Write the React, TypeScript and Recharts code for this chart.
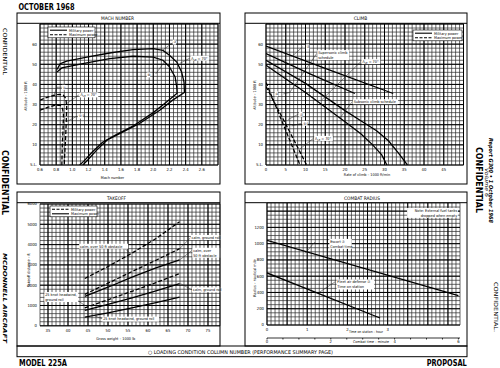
import React from 'react';
import { LineChart, Line, XAxis, YAxis, CartesianGrid, ReferenceLine, ReferenceDot } from 'recharts';

const FONT = '"DejaVu Sans Condensed", "DejaVu Sans", "Liberation Sans", sans-serif';
const HEAVY = '"DejaVu Sans", "Liberation Sans", sans-serif';

type Pt = { x: number; y: number };
type Note = { x: number; y: number; text: string; anchor?: 'start' | 'end' };
type Seg = [number, number, number, number];

// ---------- MACH NUMBER (altitude vs Mach) ----------
const machTicks = [0.6, 0.8, 1.0, 1.2, 1.4, 1.6, 1.8, 2.0, 2.2, 2.4, 2.6];
const altTicks = [0, 10, 20, 30, 40, 50, 60];

const machOuter: Pt[] = [
  { x: 0.81, y: 47.4 }, { x: 0.85, y: 50.3 }, { x: 0.93, y: 51.6 }, { x: 1.18, y: 53.6 },
  { x: 1.46, y: 55.6 }, { x: 1.75, y: 57.3 }, { x: 2.0, y: 57.8 }, { x: 2.12, y: 56.9 },
  { x: 2.2, y: 54.5 }, { x: 2.29, y: 51.1 }, { x: 2.35, y: 46.2 }, { x: 2.38, y: 41.2 },
  { x: 2.385, y: 36 }, { x: 2.24, y: 32.2 }, { x: 2.08, y: 27.2 }, { x: 1.83, y: 20.6 },
  { x: 1.59, y: 15.7 }, { x: 1.43, y: 12.4 }, { x: 1.3, y: 7.4 }, { x: 1.19, y: 2.5 },
  { x: 1.13, y: 0 },
];
const machInner: Pt[] = [
  { x: 0.81, y: 46.2 }, { x: 0.87, y: 48.2 }, { x: 1.13, y: 50.3 }, { x: 1.46, y: 52.8 },
  { x: 1.75, y: 54.0 }, { x: 2.0, y: 53.6 }, { x: 2.12, y: 52.0 }, { x: 2.2, y: 48.7 },
  { x: 2.27, y: 43.7 }, { x: 2.29, y: 38.8 }, { x: 2.295, y: 35.6 }, { x: 2.16, y: 31.2 },
  { x: 2.0, y: 26.0 }, { x: 1.76, y: 19.6 }, { x: 1.52, y: 14.6 }, { x: 1.37, y: 11.2 },
  { x: 1.24, y: 6.2 }, { x: 1.14, y: 1.8 }, { x: 1.09, y: 0 },
];
const machSubUpper: Pt[] = [
  { x: 0.6, y: 32.2 }, { x: 0.68, y: 33.5 }, { x: 0.76, y: 34.5 }, { x: 0.84, y: 35.1 },
  { x: 0.89, y: 34.6 }, { x: 0.92, y: 33 }, { x: 0.93, y: 29 }, { x: 0.925, y: 22 },
  { x: 0.915, y: 12 }, { x: 0.905, y: 5 }, { x: 0.9, y: 0 },
];
const machSubLower: Pt[] = [
  { x: 0.6, y: 27.2 }, { x: 0.7, y: 28.7 }, { x: 0.79, y: 29.7 }, { x: 0.85, y: 29.6 },
  { x: 0.88, y: 27.8 }, { x: 0.89, y: 25 }, { x: 0.885, y: 18 }, { x: 0.875, y: 9 },
  { x: 0.87, y: 0 },
];
const machNotes: Note[] = [
  { x: 2.25, y: 61, text: '⑦' },
  { x: 2.47, y: 53, text: 'ΛLE = 70°' },
  { x: 1.93, y: 44.7, text: '⑧' },
  { x: 0.88, y: 38.6, text: '①' },
  { x: 1.1, y: 34.8, text: 'ΛLE = 70°' },
  { x: 1.08, y: 24.3, text: '⑤⑦' },
];
const machLeaders: Seg[] = [
  [2.12, 57.1, 2.24, 60.7], [2.33, 50.5, 2.45, 53], [2.03, 45.2, 2.14, 51.3],
  [0.77, 34.6, 0.81, 38.6], [0.81, 38.6, 0.87, 38.6], [0.93, 30.5, 1.08, 34.8],
  [0.93, 21.5, 1.06, 24.3],
];

// ---------- CLIMB (altitude vs rate of climb) ----------
const rocTicks = [0, 5, 10, 15, 20, 25, 30, 35, 40, 45];
const climbMilA: Pt[] = [{ x: 0, y: 59 }, { x: 16, y: 47.2 }, { x: 32.2, y: 35.5 }];
const climbMilB: Pt[] = [{ x: 0, y: 55.3 }, { x: 11, y: 45.4 }, { x: 22.5, y: 35.5 }];
const climbSubA: Pt[] = [
  { x: 0, y: 52 }, { x: 10, y: 40.5 }, { x: 20, y: 27 }, { x: 24, y: 22 }, { x: 28, y: 17 },
  { x: 31, y: 12 }, { x: 33.5, y: 6 }, { x: 35.8, y: 0 },
];
const climbSubB: Pt[] = [
  { x: 0, y: 49.5 }, { x: 10, y: 36 }, { x: 20, y: 21.5 }, { x: 24, y: 15.5 }, { x: 27, y: 10 },
  { x: 29.3, y: 5 }, { x: 30.6, y: 0 },
];
const climbMaxA: Pt[] = [{ x: 0, y: 41 }, { x: 4.3, y: 20.5 }, { x: 8.6, y: 0 }];
const climbMaxB: Pt[] = [{ x: 0, y: 39 }, { x: 5.2, y: 19.5 }, { x: 10.3, y: 0 }];
const climbNotes: Note[] = [
  { x: 10.3, y: 58.7, text: '⑦' },
  { x: 13.2, y: 55.8, text: 'Supersonic climb\nschedule' },
  { x: 2.4, y: 35.3, text: '⑤' },
  { x: 24.4, y: 51.3, text: 'ΛLE = 70°' },
  { x: 22.2, y: 31.4, text: 'Subsonic climb schedule' },
  { x: 8.6, y: 25.2, text: '⑦' },
  { x: 9.4, y: 20.7, text: '⑤⑦' },
  { x: 12.4, y: 13.2, text: 'ΛLE = 70°' },
];
const climbLeaders: Seg[] = [
  [6.5, 53.8, 9.3, 58.7], [6.0, 36.0, 12.9, 55.5], [4.4, 35.3, 6.0, 36.0],
  [14.1, 32.3, 24.0, 51.3], [18.7, 23.2, 21.8, 31.4], [5.6, 22.6, 8.2, 25.2],
  [6.5, 19.4, 9.0, 20.7], [8.2, 7.4, 12.0, 13.2],
];

// ---------- TAKEOFF (distance vs gross weight) ----------
const weightTicks = [35, 40, 45, 50, 55, 60, 65, 70, 75];
const distTicks = [0, 1000, 2000, 3000, 4000, 5000, 6000];
const toWeights = [44.2, 50, 56, 62, 67.9];
const toMilObstacle = [2330, 2920, 3580, 4300, 5130];
const toMilRoll = [1550, 2100, 2670, 3230, 3800];
const toMaxObstacle = [1450, 1900, 2400, 2850, 3250];
const toMilWindRoll = [880, 1280, 1700, 2130, 2574];
const toMaxRoll = [757, 1060, 1380, 1720, 2079];
const toMaxWindRoll = [426, 640, 880, 1140, 1416];
const takeoffRows = toWeights.map((w, i) => ({
  w,
  milObs: toMilObstacle[i],
  milRoll: toMilRoll[i],
  maxObs: toMaxObstacle[i],
  milWind: toMilWindRoll[i],
  maxRoll: toMaxRoll[i],
  maxWind: toMaxWindRoll[i],
}));
const takeoffNotes: Note[] = [
  { x: 43, y: 3918, text: 'calm, over 50 ft obstacle' },
  { x: 70.9, y: 4350, text: 'calm, ground roll' },
  { x: 71.3, y: 3720, text: 'calm, over\n50 ft obstacle' },
  { x: 71.2, y: 1770, text: 'calm, ground roll' },
  { x: 34.3, y: 1540, text: '25 knot headwind,\nground roll' },
  { x: 48.8, y: 332, text: '25 knot headwind, ground roll' },
];
const takeoffLeaders: Seg[] = [
  [53.6, 3918, 55.6, 3560], [67.9, 3800, 70.6, 4330], [68.1, 3270, 70.9, 3700],
  [68.1, 2080, 71, 1770], [41.3, 1400, 44.3, 990], [46, 546, 48.5, 347],
];

// ---------- COMBAT RADIUS ----------
const hourTicks = [0, 1, 2, 3];
const minuteTicks = [0, 0.5, 1, 1.5, 2, 2.5, 3, 3.5, 4, 4.5, 5, 5.5, 6];
const radiusTicks = [0, 200, 400, 600, 800, 1000, 1200];
const escortMinutes: Pt[] = [{ x: 0, y: 1040 }, { x: 6, y: 360 }];
const fleetHours: Pt[] = [{ x: 0, y: 640 }, { x: 2.81, y: 86 }];
const combatNotes: Note[] = [
  { x: 4.73, y: 1409, text: 'Note:  External fuel tanks\ndropped when empty', anchor: 'end' },
  { x: 1.57, y: 1028, text: 'Escort ⑦\nCombat time' },
  { x: 1.75, y: 529, text: 'Fleet air defense ⑦\nTime on station' },
];
const combatLeaders: Seg[] = [[1.19, 880, 1.5, 1020], [1.28, 395, 1.69, 529]];

// ---------- helpers ----------
const steps = (a: number, b: number, s: number) => {
  const out: number[] = [];
  const n = Math.round((b - a) / s);
  for (let i = 0; i <= n; i++) out.push(+(a + i * s).toFixed(4));
  return out;
};
const slFmt = (v: number) => (v === 0 ? 'S.L.' : String(v));

const FS = 3.8;
const LH = 5;

const leLine = (l: string) =>
  l.startsWith('ΛLE')
    ? [
        <tspan key="a">Λ</tspan>,
        <tspan key="b" fontSize={FS * 0.7} dy={1}>LE</tspan>,
        <tspan key="c" dy={-1}>{l.slice(3)}</tspan>,
      ]
    : l;

const noteLabel = (n: Note) => (p: any) => {
  const vb = p.viewBox || { x: 0, y: 0 };
  const cx = vb.x;
  const cy = vb.y;
  const lines = n.text.split('\n');
  const end = n.anchor === 'end';
  const w = Math.max(...lines.map((l) => l.length)) * FS * 0.5 + 1.5;
  const h = lines.length * LH;
  return (
    <g>
      <rect x={end ? cx - w + 0.8 : cx - 0.8} y={cy - LH / 2} width={w} height={h} fill="#fff" />
      {lines.map((l, i) => (
        <text
          key={i}
          x={cx}
          y={cy + i * LH + FS * 0.36}
          fontSize={FS}
          fontFamily={FONT}
          fill="#000"
          textAnchor={end ? 'end' : 'start'}
        >
          {leLine(l)}
        </text>
      ))}
    </g>
  );
};

const renderNotes = (notes: Note[], xAxisId?: string) =>
  notes.map((n, i) => (
    <ReferenceDot
      key={`n${i}`}
      x={n.x}
      y={n.y}
      r={0}
      xAxisId={xAxisId}
      ifOverflow="visible"
      label={noteLabel(n)}
    />
  ));

const renderLeaders = (segs: Seg[], xAxisId?: string) =>
  segs.map((s, i) => (
    <ReferenceLine
      key={`l${i}`}
      xAxisId={xAxisId}
      segment={[{ x: s[0], y: s[1] }, { x: s[2], y: s[3] }]}
      stroke="#222"
      strokeWidth={0.5}
      ifOverflow="visible"
    />
  ));

const axisProps = {
  tickLine: false,
  axisLine: false,
  tickSize: 2,
  tickMargin: 1,
  interval: 0 as const,
  tick: { fontSize: 4.2, fill: '#000', fontFamily: FONT },
};

const minorGrid = { stroke: '#2e2e2e', strokeWidth: 0.72 };
const majorGrid = { stroke: '#000', strokeWidth: 1 };

type Box = { left: number; top: number; w: number; h: number };
const PL = 30;
const PT = 6;
const PR = 6;
const PB = 30;
const place = (b: Box): React.CSSProperties => ({ position: 'absolute', left: b.left - PL, top: b.top - PT });

const MACH: Box = { left: 40, top: 24, w: 178, h: 141 };
const CLIMB: Box = { left: 266, top: 24, w: 197.5, h: 141 };
const TAKEOFF: Box = { left: 40, top: 203.5, w: 180, h: 121.8 };
const COMBAT: Box = { left: 267, top: 203.3, w: 193, h: 122 };

const solid = { stroke: '#000', strokeWidth: 1.3, dot: false, isAnimationActive: false, type: 'linear' as const };
const dashed = { ...solid, strokeDasharray: '4 2' };

type LegendItem = { label: string; dashed: boolean };
const LegendBox = ({ x, y, w, items }: { x: number; y: number; w: number; items: LegendItem[] }) => (
  <g>
    <rect x={x} y={y} width={w} height={items.length * 4.6 + 1.6} fill="#fff" stroke="#000" strokeWidth={0.6} />
    {items.map((it, i) => (
      <g key={i}>
        <line
          x1={x + 2}
          x2={x + 19}
          y1={y + 3.2 + i * 4.6}
          y2={y + 3.2 + i * 4.6}
          stroke="#000"
          strokeWidth={1.1}
          strokeDasharray={it.dashed ? '3 1.5' : undefined}
        />
        <text x={x + 21} y={y + 4.5 + i * 4.6} fontSize={FS} fontFamily={FONT} fill="#000">
          {it.label}
        </text>
      </g>
    ))}
  </g>
);

const vText = (x: number, y: number, t: string, fs: number, len: number, extra: any = {}) => (
  <text transform={`translate(${x},${y}) rotate(90)`} fontSize={fs} textLength={len} lengthAdjust="spacingAndGlyphs" fill="#000" {...extra}>
    {t}
  </text>
);
const yTitle = (cx: number, cy: number, t: string) => (
  <text transform={`translate(${cx},${cy}) rotate(-90)`} fontSize={FS} fontFamily={FONT} textAnchor="middle" fill="#000">
    {t}
  </text>
);

export default function App() {
  return (
    <div style={{ position: 'absolute', left: 0, top: 0, width: 500, height: 368, background: '#fff', overflow: 'hidden', fontFamily: FONT }}>
      {/* Mach number */}
      <div style={place(MACH)}>
        <LineChart width={MACH.w + PL + PR} height={MACH.h + PT + PB} margin={{ top: PT, right: PR, bottom: 0, left: 0 }}>
          <CartesianGrid verticalValues={steps(0.6, 2.8, 0.05)} horizontalValues={steps(0, 70, 2)} {...minorGrid} />
          <CartesianGrid verticalValues={steps(0.6, 2.8, 0.2)} horizontalValues={steps(0, 70, 10)} {...majorGrid} />
          <XAxis type="number" dataKey="x" domain={[0.6, 2.8]} ticks={machTicks} tickFormatter={(v: number) => v.toFixed(1)} height={PB} allowDataOverflow {...axisProps} />
          <YAxis type="number" domain={[0, 70]} ticks={altTicks} tickFormatter={slFmt} width={PL} allowDataOverflow {...axisProps} />
          <Line data={machOuter} dataKey="y" {...solid} />
          <Line data={machInner} dataKey="y" {...solid} />
          <Line data={machSubUpper} dataKey="y" {...dashed} />
          <Line data={machSubLower} dataKey="y" {...dashed} />
          {renderLeaders(machLeaders)}
          {renderNotes(machNotes)}
        </LineChart>
      </div>

      {/* Climb */}
      <div style={place(CLIMB)}>
        <LineChart width={CLIMB.w + PL + PR} height={CLIMB.h + PT + PB} margin={{ top: PT, right: PR, bottom: 0, left: 0 }}>
          <CartesianGrid verticalValues={steps(0, 50, 1)} horizontalValues={steps(0, 70, 2)} {...minorGrid} />
          <CartesianGrid verticalValues={steps(0, 50, 5)} horizontalValues={steps(0, 70, 10)} {...majorGrid} />
          <XAxis type="number" dataKey="x" domain={[0, 50]} ticks={rocTicks} height={PB} allowDataOverflow {...axisProps} />
          <YAxis type="number" domain={[0, 70]} ticks={altTicks} tickFormatter={slFmt} width={PL} allowDataOverflow {...axisProps} />
          <Line data={climbMilA} dataKey="y" {...solid} />
          <Line data={climbMilB} dataKey="y" {...solid} />
          <Line data={climbSubA} dataKey="y" {...solid} />
          <Line data={climbSubB} dataKey="y" {...solid} />
          <Line data={climbMaxA} dataKey="y" {...dashed} />
          <Line data={climbMaxB} dataKey="y" {...dashed} />
          {renderLeaders(climbLeaders)}
          {renderNotes(climbNotes)}
        </LineChart>
      </div>

      {/* Takeoff */}
      <div style={place(TAKEOFF)}>
        <LineChart data={takeoffRows} width={TAKEOFF.w + PL + PR} height={TAKEOFF.h + PT + PB} margin={{ top: PT, right: PR, bottom: 0, left: 0 }}>
          <CartesianGrid verticalValues={steps(33, 78, 1)} horizontalValues={steps(0, 6000, 200)} {...minorGrid} />
          <CartesianGrid verticalValues={steps(35, 75, 5)} horizontalValues={steps(0, 6000, 1000)} {...majorGrid} />
          <XAxis type="number" dataKey="w" domain={[33, 78]} ticks={weightTicks} height={PB} allowDataOverflow {...axisProps} />
          <YAxis type="number" domain={[0, 6000]} ticks={distTicks} width={PL} allowDataOverflow {...axisProps} />
          <Line dataKey="milObs" {...dashed} />
          <Line dataKey="milRoll" {...dashed} />
          <Line dataKey="maxObs" {...solid} />
          <Line dataKey="milWind" {...dashed} />
          <Line dataKey="maxRoll" {...solid} />
          <Line dataKey="maxWind" {...solid} />
          {renderLeaders(takeoffLeaders)}
          {renderNotes(takeoffNotes)}
        </LineChart>
      </div>

      {/* Combat radius */}
      <div style={place(COMBAT)}>
        <LineChart width={COMBAT.w + PL + PR} height={COMBAT.h + PT + PB} margin={{ top: PT, right: PR, bottom: 0, left: 0 }}>
          <CartesianGrid verticalValues={steps(0, 4.8, 0.1)} horizontalValues={steps(0, 1500, 50)} {...minorGrid} />
          <CartesianGrid verticalValues={steps(0, 4.5, 0.5)} horizontalValues={steps(0, 1400, 200)} {...majorGrid} />
          <XAxis type="number" dataKey="x" domain={[0, 4.8]} ticks={hourTicks} height={13} allowDataOverflow {...axisProps} />
          <XAxis
            xAxisId="min"
            type="number"
            dataKey="x"
            domain={[0, 6.05]}
            ticks={minuteTicks}
            height={17}
            allowDataOverflow
            interval={0}
            axisLine={{ stroke: '#000', strokeWidth: 0.8 }}
            tickLine={{ stroke: '#000', strokeWidth: 0.8 }}
            tickSize={1.5}
            tickMargin={0.5}
            tick={(p: any) =>
              p.payload.value % 2 === 0 ? (
                <text x={p.x} y={p.y} dy="0.71em" fontSize={4.2} fontFamily={FONT} textAnchor="middle" fill="#000">
                  {p.payload.value}
                </text>
              ) : (
                <g />
              )
            }
          />
          <YAxis type="number" domain={[0, 1500]} ticks={radiusTicks} width={PL} allowDataOverflow {...axisProps} />
          <Line data={escortMinutes} xAxisId="min" dataKey="y" {...solid} />
          <Line data={fleetHours} dataKey="y" {...solid} />
          {renderLeaders(combatLeaders.slice(0, 1), 'min')}
          {renderLeaders(combatLeaders.slice(1))}
          {renderNotes(combatNotes)}
        </LineChart>
      </div>

      {/* page furniture */}
      <svg width={500} height={368} style={{ position: 'absolute', left: 0, top: 0, pointerEvents: 'none' }}>
        <g fill="none" stroke="#000" strokeWidth={1}>
          <rect x={17} y={13} width={203} height={171} />
          <line x1={17} x2={220} y1={23.3} y2={23.3} />
          <rect x={245} y={13} width={222} height={171} />
          <line x1={245} x2={467} y1={23.3} y2={23.3} />
          <rect x={17} y={192} width={203} height={154} />
          <line x1={17} x2={220} y1={202.7} y2={202.7} />
          <rect x={245} y={192} width={222} height={154} />
          <line x1={245} x2={467} y1={202.7} y2={202.7} />
          <rect x={17} y={346} width={450} height={10.7} />
        </g>

        <text x={18.5} y={10} fontSize={8.5} fontWeight="bold" fontFamily={HEAVY} textLength={56} lengthAdjust="spacingAndGlyphs">OCTOBER 1968</text>
        <text x={19} y={365.5} fontSize={8} fontWeight="bold" fontFamily={HEAVY} textLength={48} lengthAdjust="spacingAndGlyphs">MODEL 225A</text>
        <text x={426.7} y={365.5} fontSize={8} fontWeight="bold" fontFamily={HEAVY} textLength={40} lengthAdjust="spacingAndGlyphs">PROPOSAL</text>
        <text x={148} y={354} fontSize={5} fontFamily={FONT} textLength={185} lengthAdjust="spacingAndGlyphs">○ LOADING CONDITION COLUMN NUMBER (PERFORMANCE SUMMARY PAGE)</text>

        <g fontSize={4.8} fontFamily={FONT} textAnchor="middle">
          <text x={117.5} y={20}>MACH NUMBER</text>
          <text x={360.5} y={20}>CLIMB</text>
          <text x={116.5} y={200}>TAKEOFF</text>
          <text x={362} y={200}>COMBAT RADIUS</text>
        </g>

        <g fontSize={FS} fontFamily={FONT} textAnchor="middle">
          <text x={112.5} y={179}>Mach number</text>
          <text x={367} y={175.5}>Rate of climb – 1000 ft/min</text>
          <text x={115.7} y={340}>Gross weight – 1000 lb</text>
        </g>
        <g fontSize={3.6} fontFamily={FONT}>
          <text x={349} y={333} textLength={34} lengthAdjust="spacingAndGlyphs">Time on station – hour</text>
          <text x={353} y={343}>Combat time – minute</text>
        </g>
        {yTitle(26.5, 96, 'Altitude – 1000 ft')}
        {yTitle(255.5, 95, 'Altitude – 1000 ft')}
        {yTitle(29.5, 270, 'Takeoff distance – ft')}
        {yTitle(255.5, 278, 'Radius – nautical mile')}

        <LegendBox x={48} y={27} w={47} items={[{ label: 'Military power', dashed: false }, { label: 'Maximum power', dashed: true }]} />
        <LegendBox x={413} y={30} w={49} items={[{ label: 'Military power', dashed: false }, { label: 'Maximum power', dashed: true }]} />
        <LegendBox x={50} y={206} w={47} items={[{ label: 'Military power', dashed: true }, { label: 'Maximum power', dashed: false }]} />

        {vText(2.5, 28, 'CONFIDENTIAL', 5.5, 47, { fontFamily: FONT })}
        {vText(1.5, 150, 'CONFIDENTIAL', 9.5, 65, { fontFamily: HEAVY, fontWeight: 'bold' })}
        {vText(3, 253, 'MCDONNELL AIRCRAFT', 5.5, 90, { fontFamily: HEAVY, fontWeight: 'bold', fontStyle: 'italic' })}
        {vText(489, 138, 'Report G300  •  1 October 1968', 5.5, 85, { fontFamily: HEAVY, fontWeight: 'bold', fontStyle: 'italic' })}
        {vText(484.5, 168, 'Volume 6', 5, 29, { fontFamily: HEAVY, fontStyle: 'italic' })}
        {vText(476, 147, 'CONFIDENTIAL', 9, 66, { fontFamily: HEAVY, fontWeight: 'bold' })}
        {vText(494, 282, 'CONFIDENTIAL.', 5.5, 50, { fontFamily: FONT })}
      </svg>
    </div>
  );
}
